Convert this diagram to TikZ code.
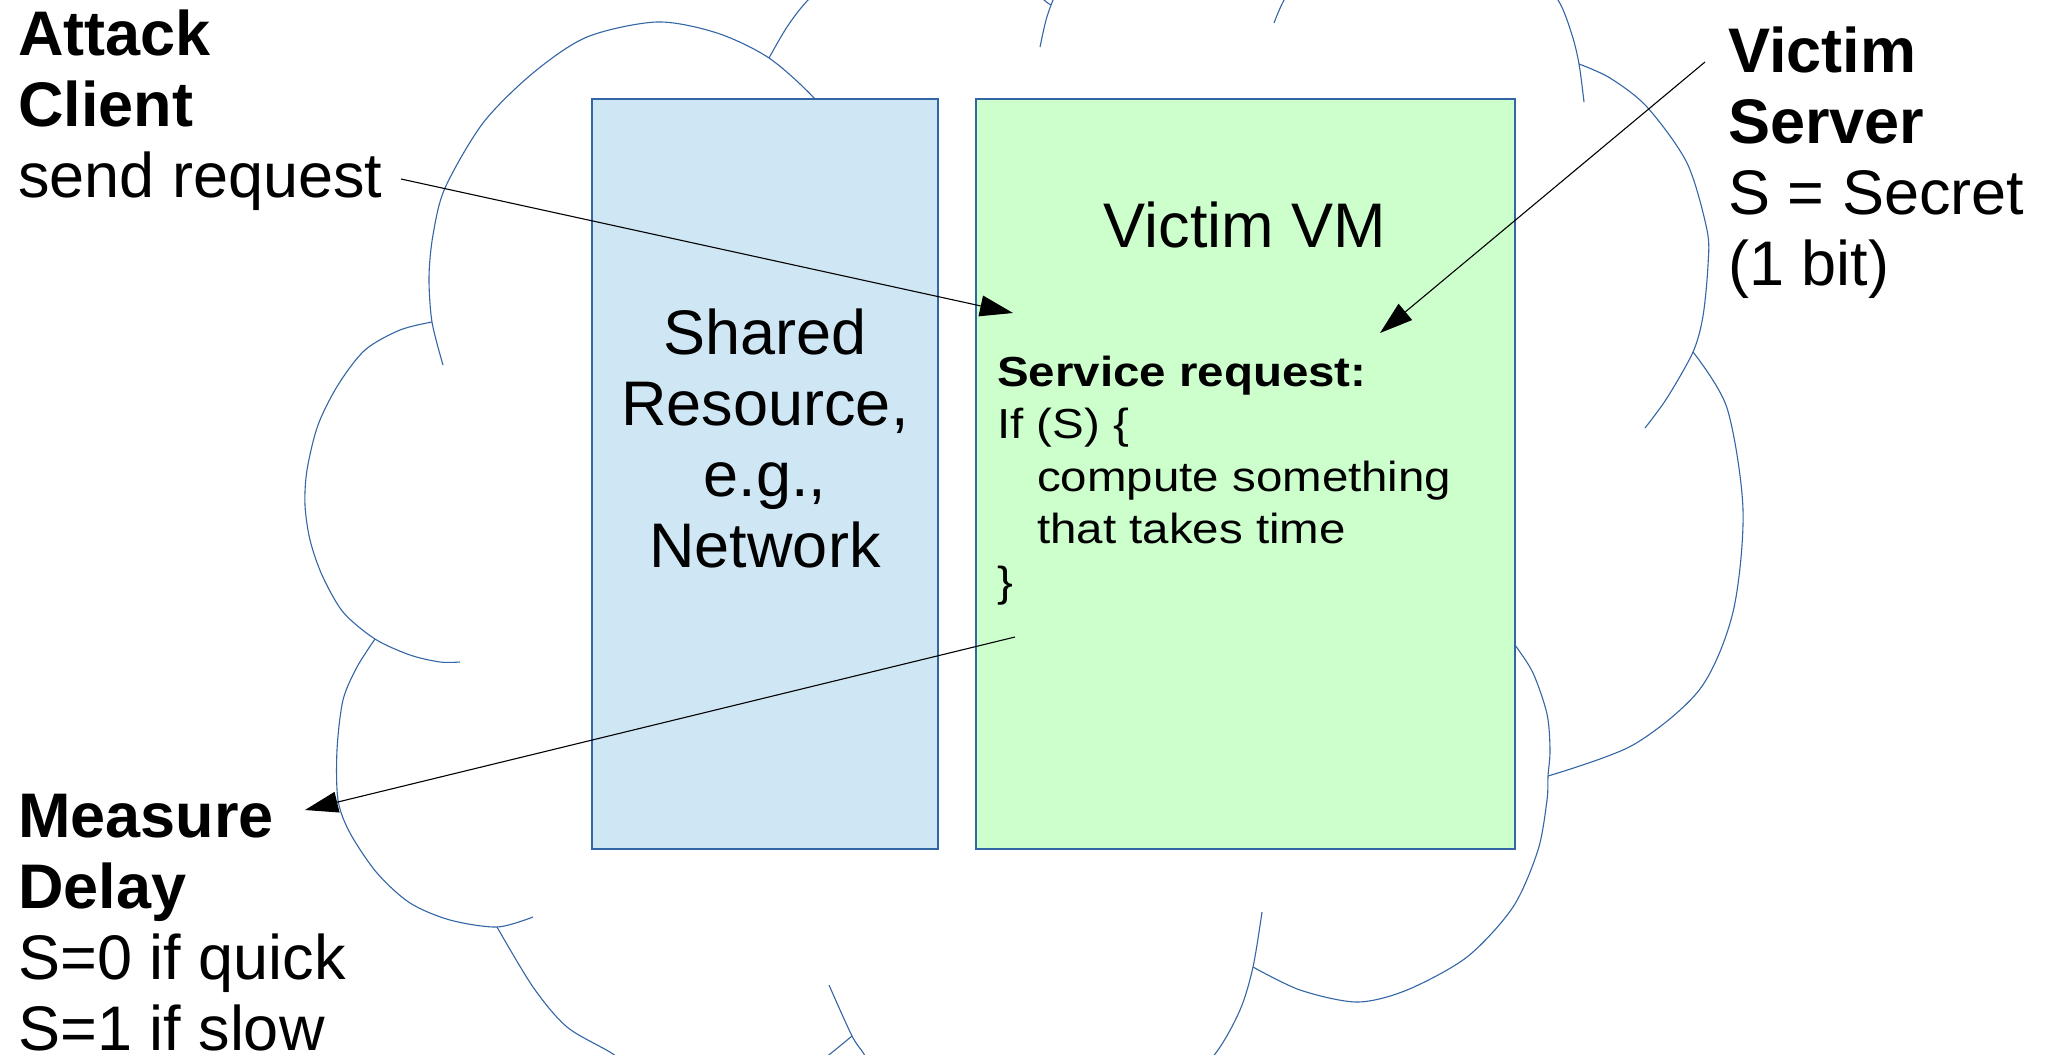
\documentclass[tikz,border=0pt]{standalone}
\usepackage{fontspec}
\setmainfont{Liberation Sans}
\newfontfamily\codefont{Liberation Sans}[FakeStretch=1.13]
\usetikzlibrary{arrows.meta}
\definecolor{cloudblue}{HTML}{3465A4}
\definecolor{sharedfill}{HTML}{CFE7F5}
\definecolor{vmfill}{HTML}{CCFFCC}
\newcommand{\bigtext}{\fontsize{63}{71}\selectfont}
\newcommand{\codetext}{\codefont\fontsize{42}{52.5}\selectfont}
\tikzset{
  cloudline/.style={draw=cloudblue, line width=1.1pt},
  resbox/.style={rectangle, draw=cloudblue, line width=1.5pt, inner sep=0pt,
    minimum height=750pt},
  sidetext/.style={align=left, anchor=base west, inner sep=0pt, font=\bigtext},
  link/.style={-{Triangle[length=33pt,width=21pt]}, line width=1.1pt},
}
\begin{document}
\begin{tikzpicture}[x=1pt,y=-1pt]
\useasboundingbox (0,0) rectangle (2049,1054);
\clip (0,0) rectangle (2049,1054);
% cloud
\draw[cloudline] plot[smooth] coordinates {(443,365) (432,322) (429,277) (433,235) (445,188) (483,123) (533,73) (587,37) (657,22) (717,33) (769,58) (815,99) (845,140)};
\draw[cloudline] plot[smooth] coordinates {(769,58) (787,27) (808,0) (850,-40) (910,-60) (975,-50) (1025,-18) (1044,0) (1051,5)};
\draw[cloudline] plot[smooth] coordinates {(1040,47) (1046,20) (1053,0) (1068,-35) (1100,-75)};
\draw[cloudline] plot[smooth] coordinates {(1274,23) (1284,0) (1310,-45) (1380,-85) (1460,-80) (1525,-40) (1558,0) (1572,35) (1579,64) (1584,102)};
\draw[cloudline] plot[smooth] coordinates {(1579,64) (1610,78) (1647,107) (1687,163) (1707,230) (1708,265) (1703,316) (1693,352) (1667,398) (1645,428)};
\draw[cloudline] plot[smooth] coordinates {(1693,352) (1727,408) (1743,510) (1733,612) (1700,689) (1633,745) (1548,776)};
\draw[cloudline] plot[smooth] coordinates {(1500,625) (1515,645) (1533,673) (1547,714) (1550,750) (1548,776) (1547,800) (1538,850) (1513,907) (1467,957) (1407,990) (1357,1002) (1300,990) (1253,967)};
\draw[cloudline] plot[smooth] coordinates {(1262,912) (1253,967) (1240,1010) (1215,1054) (1170,1100) (1100,1130) (1000,1135) (920,1110) (875,1075) (864,1054) (852,1036) (829,985)};
\draw[cloudline] plot[smooth] coordinates {(852,1036) (830,1054) (790,1085) (720,1100) (655,1085) (613,1054) (567,1027) (533,987) (497,927)};
\draw[cloudline] plot[smooth] coordinates {(375,639) (357,667) (343,700) (337,750) (338,800) (350,833) (377,873) (410,903) (450,920) (497,927) (533,917)};
\draw[cloudline] plot[smooth] coordinates {(432,322) (400,330) (365,350) (338,385) (318,425) (307,470) (305,505) (310,540) (322,575) (343,612) (375,639) (410,655) (440,662) (460,662)};
% boxes
\node[resbox, fill=sharedfill, minimum width=346pt] (shared) at (765,474) {};
\node[resbox, fill=vmfill, minimum width=539pt] (vm) at (1245.5,474) {};
\node[anchor=base, align=center, inner sep=0pt, font=\bigtext] (sharedtext) at (765,567) {Shared\\Resource,\\e.g.,\\Network};
\node[anchor=base, inner sep=0pt, font=\bigtext] (vmtitle) at (1245,247) {Victim VM};
\node[anchor=base west, align=left, inner sep=0pt, font=\codetext] (service) at (997,596) {\textbf{Service request:}\\If (S) \{\\\hspace*{40pt}compute something\\\hspace*{40pt}that takes time\\\}};
% labels
\node[sidetext] (attack) at (18,197) {\textbf{Attack}\\\textbf{Client}\\send request};
\node[sidetext] (server) at (1728,285) {\textbf{Victim}\\\textbf{Server}\\S = Secret\\(1 bit)};
\node[sidetext] (measure) at (18,1050) {\textbf{Measure}\\\textbf{Delay}\\S=0 if quick\\S=1 if slow};
% arrows
\coordinate (reqstart) at (401,179);
\coordinate (reqtip) at (1013,313);
\draw[link] (reqstart) -- (reqtip);
\coordinate (secstart) at (1705,62);
\coordinate (sectip) at (1380,333);
\draw[link] (secstart) -- (sectip);
\coordinate (delstart) at (1015,637);
\coordinate (deltip) at (305,810);
\draw[link] (delstart) -- (deltip);
\end{tikzpicture}
\end{document}
